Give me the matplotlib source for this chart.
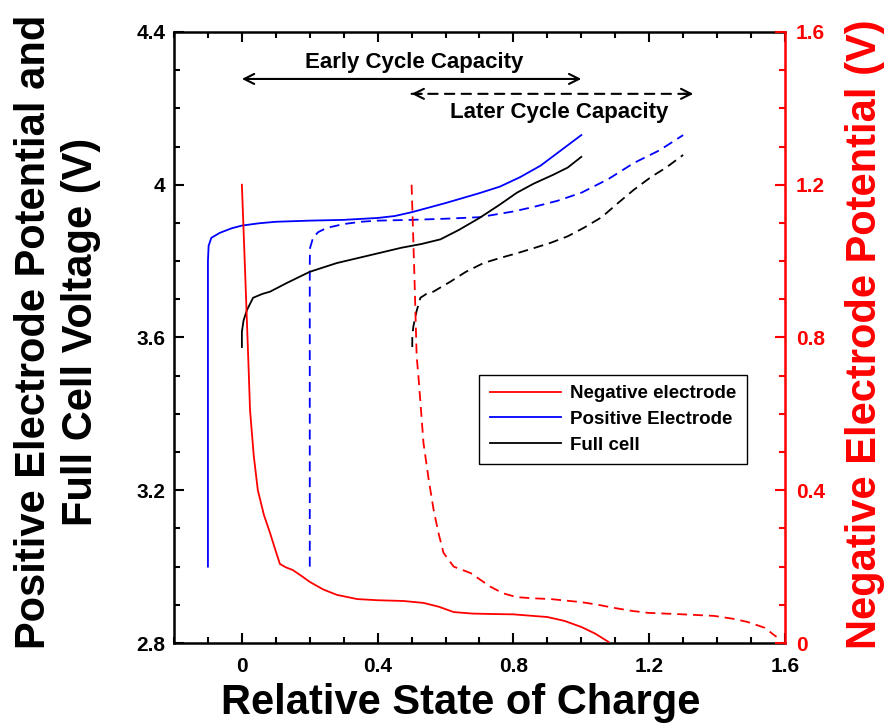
import matplotlib
matplotlib.use("Agg")
import matplotlib.pyplot as plt
from matplotlib.lines import Line2D
from matplotlib.ticker import MultipleLocator

plt.rcParams["font.family"] = ["Liberation Sans", "DejaVu Sans"]
plt.rcParams["font.weight"] = "bold"

# ---- positive electrode potential (V), early and later cycle ----
soc_pos_early = [-0.1, -0.1, -0.098, -0.09, -0.065, -0.03, 0.0, 0.05, 0.1, 0.2, 0.3,
                 0.4, 0.45, 0.5, 0.55, 0.6, 0.65, 0.7, 0.76, 0.82, 0.88, 0.94, 1.0]
v_pos_early = [3.0, 3.80, 3.84, 3.861, 3.874, 3.886, 3.893, 3.899, 3.903, 3.906, 3.908,
               3.913, 3.918, 3.928, 3.94, 3.952, 3.965, 3.978, 3.995, 4.02, 4.05, 4.09, 4.13]

soc_pos_late = [0.2, 0.2, 0.201, 0.21, 0.225, 0.25, 0.3, 0.35, 0.4, 0.5, 0.6, 0.7,
                0.8, 0.86, 0.93, 1.0, 1.08, 1.155, 1.23, 1.3]
v_pos_late = [3.0, 3.80, 3.835, 3.862, 3.876, 3.887, 3.897, 3.903, 3.906, 3.908, 3.911, 3.915,
              3.93, 3.942, 3.958, 3.979, 4.015, 4.057, 4.09, 4.13]

# ---- full cell voltage (V) ----
soc_full_early = [0.0, 0.0, 0.005, 0.015, 0.033, 0.06, 0.083, 0.133, 0.2, 0.28, 0.38,
                  0.47, 0.53, 0.585, 0.64, 0.7, 0.76, 0.81, 0.86, 0.917, 0.96, 1.0]
v_full_early = [3.575, 3.615, 3.645, 3.672, 3.704, 3.714, 3.72, 3.743, 3.772, 3.795, 3.816,
                3.835, 3.845, 3.857, 3.882, 3.913, 3.948, 3.979, 4.003, 4.026, 4.045, 4.073]

soc_full_late = [0.502, 0.502, 0.505, 0.515, 0.526, 0.545, 0.564, 0.614, 0.66, 0.712, 0.76,
                 0.812, 0.86, 0.91, 0.96, 1.007, 1.06, 1.108, 1.155, 1.205, 1.25, 1.30]
v_full_late = [3.575, 3.60, 3.628, 3.67, 3.704, 3.715, 3.72, 3.746, 3.772, 3.795, 3.808,
               3.821, 3.834, 3.848, 3.865, 3.887, 3.915, 3.952, 3.987, 4.02, 4.045, 4.078]

# ---- negative electrode potential (V), right axis ----
soc_neg_early = [0.0, 0.01, 0.02, 0.024, 0.035, 0.047, 0.065, 0.083, 0.1, 0.112, 0.13, 0.15,
                 0.175, 0.2, 0.24, 0.28, 0.34, 0.4, 0.476, 0.535, 0.58, 0.624, 0.68, 0.733,
                 0.8, 0.9, 0.95, 1.0, 1.04, 1.08]
v_neg_early = [1.2, 0.96, 0.715, 0.61, 0.49, 0.40, 0.335, 0.288, 0.24, 0.207, 0.198, 0.191,
               0.176, 0.16, 0.14, 0.126, 0.115, 0.112, 0.11, 0.105, 0.095, 0.081, 0.077, 0.076,
               0.075, 0.068, 0.058, 0.042, 0.025, 0.003]

soc_neg_late = [0.5, 0.508, 0.515, 0.52, 0.535, 0.55, 0.565, 0.58, 0.594, 0.624, 0.674, 0.733,
                0.77, 0.81, 0.86, 0.91, 1.0, 1.05, 1.096, 1.15, 1.196, 1.3, 1.391, 1.45,
                1.49, 1.54, 1.575]
v_neg_late = [1.2, 0.97, 0.749, 0.70, 0.524, 0.43, 0.348, 0.285, 0.236, 0.2, 0.183, 0.147,
              0.13, 0.12, 0.117, 0.115, 0.107, 0.1, 0.092, 0.084, 0.079, 0.075, 0.071, 0.063,
              0.055, 0.04, 0.016]

# capacity windows marked by arrows
early_span = (0.0, 1.0)
later_span = (0.5, 1.33)
series_labels = ["Negative electrode", "Positive Electrode", "Full cell"]

RED, BLUE, BLACK = "#ff0000", "#0000ff", "#000000"
DASH = (0, (5.5, 3.3))
LW = 1.3

fig = plt.figure(figsize=(8.9, 7.25), dpi=100)
ax = fig.add_axes([0.1955, 0.1131, 0.6865, 0.8428])
ax2 = ax.twinx()

ax.plot(soc_pos_early, v_pos_early, color=BLUE, lw=LW)
ax.plot(soc_pos_late, v_pos_late, color=BLUE, lw=LW, ls=DASH)
ax.plot(soc_full_early, v_full_early, color=BLACK, lw=LW)
ax.plot(soc_full_late, v_full_late, color=BLACK, lw=LW, ls=DASH)
ax2.plot(soc_neg_early, v_neg_early, color=RED, lw=LW)
ax2.plot(soc_neg_late, v_neg_late, color=RED, lw=LW, ls=DASH)

ax.set_xlim(-0.2, 1.6)
ax.set_ylim(2.8, 4.4)
ax2.set_ylim(0, 1.6)

ax.xaxis.set_major_locator(MultipleLocator(0.4))
ax.xaxis.set_minor_locator(MultipleLocator(0.1))
ax.yaxis.set_major_locator(MultipleLocator(0.4))
ax.yaxis.set_minor_locator(MultipleLocator(0.1))
ax2.yaxis.set_major_locator(MultipleLocator(0.4))
ax2.yaxis.set_minor_locator(MultipleLocator(0.1))

fmt = lambda v, _: ("%g" % round(v, 2))
ax.xaxis.set_major_formatter(fmt)
ax.yaxis.set_major_formatter(fmt)
ax2.yaxis.set_major_formatter(fmt)

for a in (ax, ax2):
    for s in a.spines.values():
        s.set_linewidth(1.8)
ax.spines["right"].set_visible(False)
for side in ("left", "top", "bottom"):
    ax2.spines[side].set_visible(False)
ax2.spines["right"].set_color(RED)

ax.tick_params(axis="both", which="both", direction="in", top=True, right=False,
               width=1.5, labelsize=15)
ax.tick_params(which="major", length=7)
ax.tick_params(which="minor", length=4.5)
ax.tick_params(axis="x", pad=10)
ax.tick_params(axis="y", pad=6)
ax2.tick_params(axis="y", which="both", direction="in", colors=RED, width=1.5,
                labelsize=15, pad=8)
ax2.tick_params(which="major", length=7)
ax2.tick_params(which="minor", length=4.5)

ax.set_xlabel("Relative State of Charge", fontsize=30, fontweight="bold")
ax.xaxis.set_label_coords(0.47, -0.066)
ax.set_ylabel("Positive Electrode Potential and\nFull Cell Voltage (V)",
              fontsize=30, fontweight="bold", linespacing=1.2)
ax.yaxis.set_label_coords(-0.12, 0.509)
ax2.set_ylabel("Negative Electrode Potential (V)", fontsize=30, fontweight="bold",
               color=RED)
ax2.yaxis.set_label_coords(1.098, 0.506)

# capacity arrows
arrow_y_early, arrow_y_later = 4.277, 4.238
ax.annotate("", xy=(early_span[1], arrow_y_early), xytext=(early_span[0], arrow_y_early),
            arrowprops=dict(arrowstyle="<->, head_length=0.4, head_width=0.2",
                            mutation_scale=18, lw=1.5, color=BLACK,
                            shrinkA=0, shrinkB=0))
ax.annotate("", xy=(later_span[1], arrow_y_later), xytext=(later_span[0], arrow_y_later),
            arrowprops=dict(arrowstyle="-", lw=1.5, color=BLACK, linestyle=(0, (4.5, 3.5)),
                            shrinkA=0, shrinkB=0))
for end, inner in ((later_span[0], later_span[0] + 0.03), (later_span[1], later_span[1] - 0.03)):
    ax.annotate("", xy=(end, arrow_y_later), xytext=(inner, arrow_y_later),
                arrowprops=dict(arrowstyle="->, head_length=0.4, head_width=0.2",
                                mutation_scale=18, lw=1.5, color=BLACK,
                                shrinkA=0, shrinkB=0))
ax.text(0.508, 4.321, "Early Cycle Capacity", ha="center", va="center",
        fontsize=16, fontweight="bold")
ax.text(0.934, 4.19, "Later Cycle Capacity", ha="center", va="center",
        fontsize=16, fontweight="bold")

handles = [Line2D([], [], color=c, lw=LW) for c in (RED, BLUE, BLACK)]
leg = ax2.legend(handles, series_labels, loc="upper left", bbox_to_anchor=(0.5, 0.4386),
                 borderaxespad=0, prop={"weight": "bold", "size": 13.5},
                 frameon=True, fancybox=False, edgecolor=BLACK, framealpha=1,
                 handlelength=3.8, handletextpad=0.5, labelspacing=0.45, borderpad=0.55)
leg.get_frame().set_linewidth(1.0)

fig.savefig("out.png", dpi=100)
